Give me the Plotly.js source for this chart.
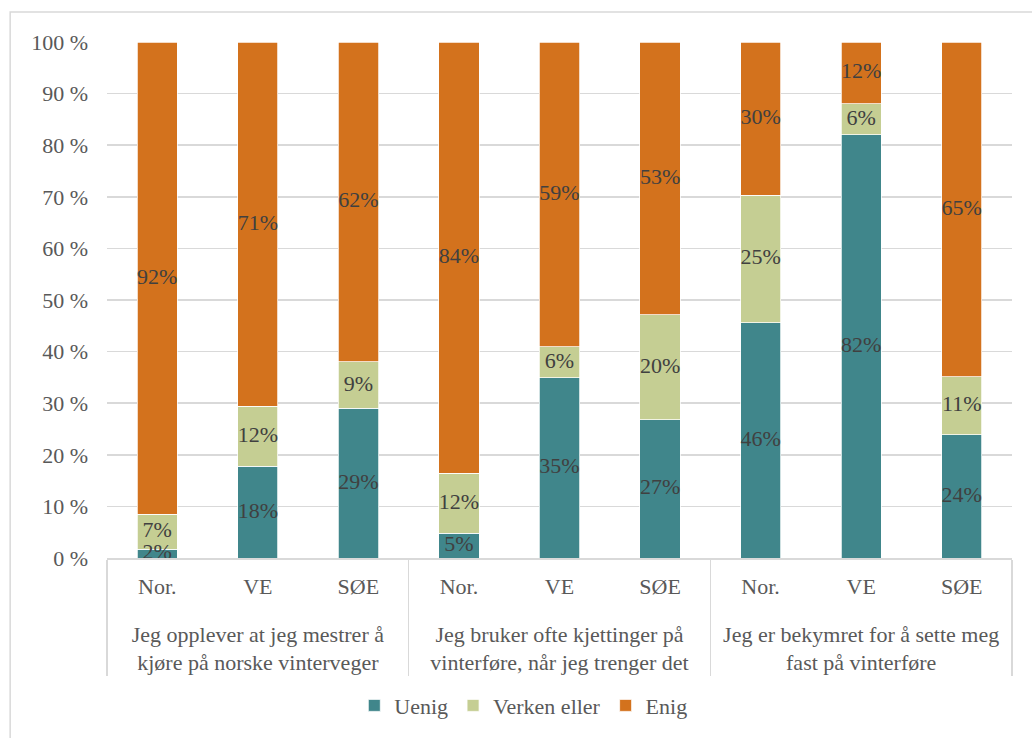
<!DOCTYPE html>
<html>
<head>
<meta charset="utf-8">
<script src="https://cdn.plot.ly/plotly-3.0.1.min.js"></script>
<style>
html,body{margin:0;padding:0;background:#fff;}
#chart{width:1032px;height:738px;}
</style>
</head>
<body>
<div id="chart"></div>
<script>
const groups = [
  "Jeg opplever at jeg mestrer å<br>kjøre på norske vinterveger",
  "Jeg bruker ofte kjettinger på<br>vinterføre, når jeg trenger det",
  "Jeg er bekymret for å sette meg<br>fast på vinterføre"
];
const subcats = ["Nor.", "VE", "SØE"];
const seriesNames = ["Uenig", "Verken eller", "Enig"];
const colors = ["#40868B", "#C5CE93", "#D3721D"];

const uenig  = [1.7, 17.8, 29.0,  4.8, 34.9, 26.8, 45.6, 82.0, 23.9];
const verken = [6.8, 11.6,  9.0, 11.6,  6.0, 20.3, 24.7,  6.0, 11.2];
const enig   = [91.5, 70.6, 62.0, 83.6, 59.1, 52.9, 29.7, 12.0, 64.9];

const xGroup = [], xSub = [];
groups.forEach(g => subcats.forEach(s => { xGroup.push("<br>" + g); xSub.push(s); }));

const FONT = "'Liberation Serif', 'DejaVu Serif', serif";
const FS = 22;
const values = [uenig, verken, enig];

const traces = values.map((v, i) => ({
  type: "bar",
  name: seriesNames[i],
  x: [xGroup, xSub],
  y: v,
  marker: {color: colors[i], line: {color: "#ffffff", width: 0.75}},
  textposition: "none",
  hoverinfo: "skip"
}));

// data labels drawn on top of all bars, at the middle of each segment
const base = uenig.map(() => 0);
values.forEach((v) => {
  traces.push({
    type: "scatter",
    mode: "text",
    x: [xGroup, xSub],
    y: v.map((val, j) => base[j] + val / 2),
    text: v.map(val => Math.round(val) + "%"),
    textposition: "middle center",
    textfont: {family: FONT, size: FS, color: "#404040"},
    cliponaxis: false,
    showlegend: false,
    hoverinfo: "skip"
  });
  v.forEach((val, j) => { base[j] += val; });
});

const layout = {
  width: 1032, height: 738,
  margin: {l: 107, r: 20, t: 42, b: 178},
  barmode: "stack",
  bargap: 0.6,
  paper_bgcolor: "#ffffff",
  plot_bgcolor: "#ffffff",
  font: {family: FONT, size: FS, color: "#595959"},
  showlegend: true,
  legend: {
    orientation: "h", x: 0.46, xanchor: "center", y: -0.286, yanchor: "middle",
    font: {family: FONT, size: FS, color: "#595959"},
    traceorder: "normal", itemwidth: 30
  },
  xaxis: {
    type: "multicategory",
    showline: true, linecolor: "#d9d9d9", linewidth: 1.5,
    showdividers: true, dividercolor: "#d9d9d9", dividerwidth: 1.5,
    tickfont: {family: FONT, size: FS, color: "#595959"},
    ticks: "", showgrid: false,
    ticklabelstandoff: 8
  },
  yaxis: {
    range: [0, 100], dtick: 10, ticksuffix: " %",
    showgrid: true, gridcolor: "#d9d9d9", gridwidth: 1.5,
    zeroline: false, showline: false,
    tickfont: {family: FONT, size: FS, color: "#595959"},
    ticklabelstandoff: 18
  },
  shapes: [{
    type: "rect", xref: "paper", yref: "paper",
    x0: -0.107, x1: 1.04, y0: -0.36, y1: 1.058,
    line: {color: "#d9d9d9", width: 1.5}, fillcolor: "rgba(0,0,0,0)", layer: "below"
  }]
};

Plotly.newPlot("chart", traces, layout, {displayModeBar: false, staticPlot: true});
</script>
</body>
</html>
